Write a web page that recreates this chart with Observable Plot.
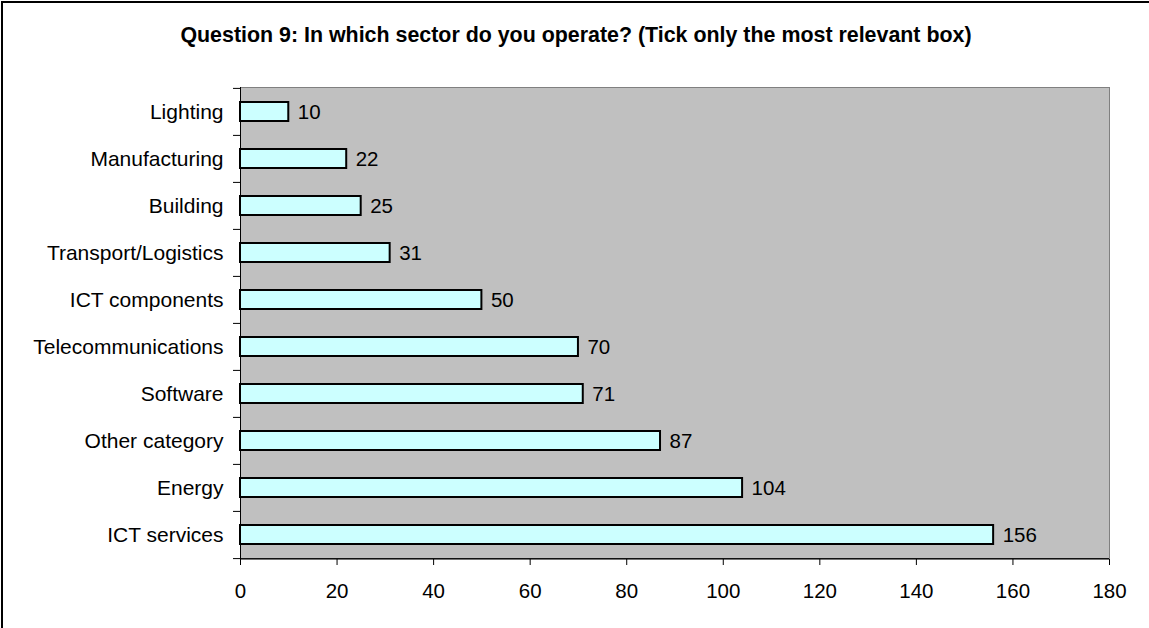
<!DOCTYPE html>
<html>
<head>
<meta charset="utf-8">
<script src="https://cdn.jsdelivr.net/npm/d3@7"></script>
<script src="https://cdn.jsdelivr.net/npm/@observablehq/plot@0.6"></script>
<style>
  html, body { margin: 0; padding: 0; background: #fff; }
  #chart { position: relative; width: 1149px; height: 628px; overflow: hidden; font-family: "Liberation Sans", Arial, sans-serif; }
  #edge-top { position: absolute; left: 1px; top: 1px; width: 1200px; height: 2px; background: #000; }
  #edge-left { position: absolute; left: 1px; top: 1px; width: 2px; height: 700px; background: #000; }
  #title { position: absolute; top: 21.5px; left: 0; width: 1152px; text-align: center;
           font-size: 21.4px; line-height: 26px; font-weight: bold; color: #000; white-space: nowrap; }
  #plot { position: absolute; left: 0; top: 0; }
</style>
</head>
<body>
<div id="chart">
  <div id="plot"></div>
  <div id="edge-top"></div>
  <div id="edge-left"></div>
  <div id="title">Question 9: In which sector do you operate? (Tick only the most relevant box)</div>
</div>
<script>
// Survey answers: one sector per respondent, top to bottom
const sectors = ["Lighting", "Manufacturing", "Building", "Transport/Logistics", "ICT components",
                 "Telecommunications", "Software", "Other category", "Energy", "ICT services"];
const counts = [10, 22, 25, 31, 50, 70, 71, 87, 104, 156];
const xTicks = [0, 20, 40, 60, 80, 100, 120, 140, 160, 180];

const rows = sectors.map((sector, i) => ({sector, count: counts[i]}));

const W = 1149, H = 628;
const mTop = 87, mBottom = 69, mLeft = 240, mRight = 40;
const step = (H - mTop - mBottom) / sectors.length;   // one category band
const lastSector = sectors[sectors.length - 1];

const chart = Plot.plot({
  width: W,
  height: H,
  marginTop: mTop,
  marginBottom: mBottom,
  marginLeft: mLeft,
  marginRight: mRight,
  style: {fontFamily: "'Liberation Sans', Arial, sans-serif", background: "transparent", color: "#000"},
  x: {domain: [0, 180], label: null},
  y: {domain: sectors, paddingInner: 0.6, paddingOuter: 0.3, label: null},
  marks: [
    // grey plot area
    Plot.frame({fill: "#C0C0C0", stroke: "#808080"}),
    Plot.barX(rows, {x: "count", y: "sector", fill: "#CCFFFF", stroke: "#000", strokeWidth: 2}),
    Plot.text(rows, {x: "count", y: "sector", text: d => String(d.count), textAnchor: "start",
                     dx: 9, fontSize: 20.5, fill: "#000"}),
    // axis lines
    Plot.ruleX([0], {stroke: "#000"}),
    Plot.ruleY([lastSector], {dy: step / 2, stroke: "#000"}),
    // category ticks sit on the band boundaries
    Plot.ruleY(sectors, {x1: 0, x2: 0, insetLeft: -7, dy: -step / 2, stroke: "#000"}),
    Plot.ruleY([lastSector], {x1: 0, x2: 0, insetLeft: -7, dy: step / 2, stroke: "#000"}),
    Plot.axisY({tickSize: 0, tickPadding: 17, fontSize: 21, fill: "#000"}),
    Plot.axisX({ticks: xTicks, tickSize: 6, tickPadding: 18, fontSize: 20.5, fill: "#000", stroke: "#000"})
  ]
});

document.getElementById("plot").appendChild(chart);
</script>
</body>
</html>
